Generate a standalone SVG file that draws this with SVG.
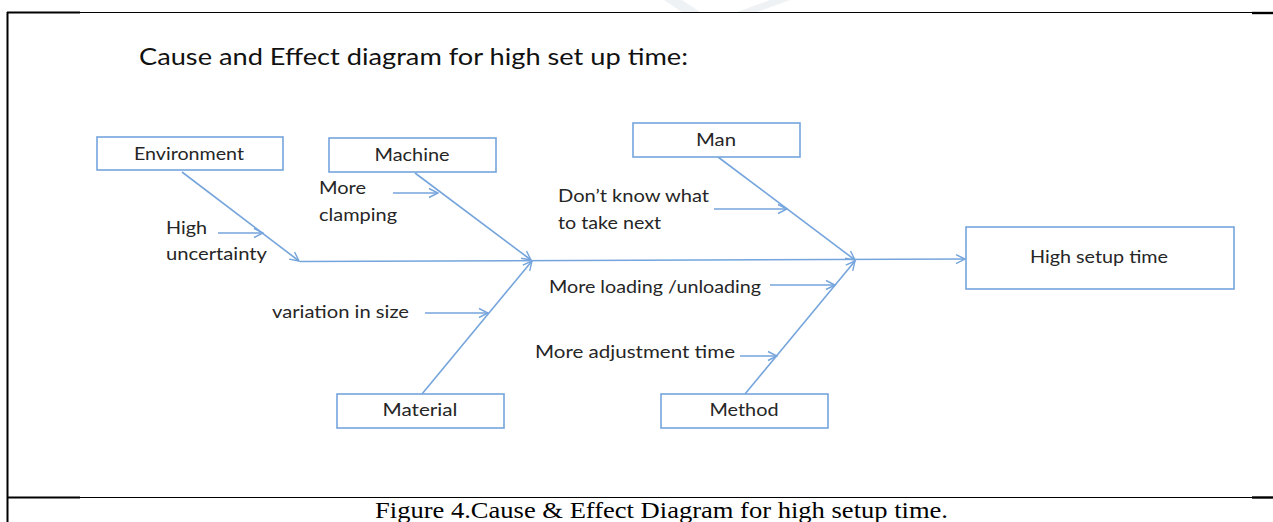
<svg xmlns="http://www.w3.org/2000/svg" width="1273" height="522" viewBox="0 0 1273 522">
<defs>
<marker id="ah" markerUnits="userSpaceOnUse" markerWidth="12" markerHeight="12" viewBox="0 0 12 12" refX="11" refY="6" orient="auto">
<path d="M2,1.5 L11,6 L2,10.5" fill="none" stroke="#75a5dc" stroke-width="1.4"/>
</marker>
<style>
.box{fill:#fff;stroke:#75a5dc;stroke-width:1.6}
.ln{fill:none;stroke:#75a5dc;stroke-width:1.6;marker-end:url(#ah)}
.t{font-family:Lato,"Open Sans","Liberation Sans",sans-serif;font-size:17px;fill:#262626}
.c{text-anchor:middle}
.frame{stroke:#000;fill:none}
</style>
</defs>
<rect width="1273" height="522" fill="#fff"/>
<g id="watermark">
<polygon points="664,0 682,0 700,12 682,12" fill="#eef2f4"/>
<polygon points="770,0 790,0 757,12 737,12" fill="#eef2f4"/>
</g>
<g id="frame">
<line class="frame" x1="80" y1="12.5" x2="1252" y2="12.5" stroke-width="1.2"/>
<line class="frame" x1="7" y1="12.5" x2="80" y2="12.5" stroke-width="2"/>
<line class="frame" x1="1252" y1="13" x2="1273" y2="13" stroke-width="2.4"/>
<line class="frame" x1="7.5" y1="12" x2="7.5" y2="522" stroke-width="2"/>
<line class="frame" x1="80" y1="497.5" x2="1252" y2="497.5" stroke-width="1.2"/>
<line class="frame" x1="7" y1="497.5" x2="80" y2="497.5" stroke-width="2"/>
<line class="frame" x1="1252" y1="497.5" x2="1273" y2="497.5" stroke-width="2.4"/>
</g>
<text id="title" x="139" y="65" font-family="Lato,'Open Sans','Liberation Sans',sans-serif" font-size="23" fill="#111" textLength="549" lengthAdjust="spacingAndGlyphs">Cause and Effect diagram for high set up time:</text>
<g id="connectors">
<line class="ln" x1="300" y1="261.5" x2="965" y2="259"/>
<line class="ln" x1="182" y1="172" x2="299" y2="261"/>
<line class="ln" x1="218" y1="233" x2="263" y2="233"/>
<line class="ln" x1="415" y1="173" x2="531" y2="260"/>
<line class="ln" x1="393" y1="193" x2="438" y2="193"/>
<line class="ln" x1="422" y1="394" x2="532" y2="261"/>
<line class="ln" x1="425" y1="313" x2="488" y2="313"/>
<line class="ln" x1="718" y1="157" x2="855" y2="260"/>
<line class="ln" x1="714" y1="209" x2="787" y2="209"/>
<line class="ln" x1="745" y1="394" x2="855" y2="261"/>
<line class="ln" x1="770" y1="285" x2="835" y2="285"/>
<line class="ln" x1="740" y1="356" x2="777" y2="356"/>
</g>
<g id="environment">
<rect class="box" x="97" y="137" width="186" height="33"/>
<text class="t c" x="189" y="160" textLength="110" lengthAdjust="spacingAndGlyphs">Environment</text>
</g>
<g id="machine">
<rect class="box" x="329" y="138" width="167" height="34"/>
<text class="t c" x="412" y="161" textLength="75" lengthAdjust="spacingAndGlyphs">Machine</text>
</g>
<g id="man">
<rect class="box" x="633" y="123" width="167" height="34"/>
<text class="t c" x="716" y="146" textLength="40" lengthAdjust="spacingAndGlyphs">Man</text>
</g>
<g id="effect">
<rect class="box" x="966" y="227" width="268" height="62"/>
<text class="t c" x="1099" y="263" textLength="138" lengthAdjust="spacingAndGlyphs">High setup time</text>
</g>
<g id="material">
<rect class="box" x="337" y="394" width="167" height="34"/>
<text class="t c" x="420" y="416" textLength="75" lengthAdjust="spacingAndGlyphs">Material</text>
</g>
<g id="method">
<rect class="box" x="661" y="394" width="167" height="34"/>
<text class="t c" x="744" y="416" textLength="69" lengthAdjust="spacingAndGlyphs">Method</text>
</g>
<g id="labels">
<text class="t" x="319" y="194" textLength="47" lengthAdjust="spacingAndGlyphs">More</text>
<text class="t" x="319" y="221" textLength="78" lengthAdjust="spacingAndGlyphs">clamping</text>
<text class="t" x="166" y="234" textLength="41" lengthAdjust="spacingAndGlyphs">High</text>
<text class="t" x="166" y="260" textLength="101" lengthAdjust="spacingAndGlyphs">uncertainty</text>
<text class="t" x="558" y="202" textLength="151" lengthAdjust="spacingAndGlyphs">Don’t know  what</text>
<text class="t" x="558" y="229" textLength="103" lengthAdjust="spacingAndGlyphs">to take next</text>
<text class="t" x="549" y="293" textLength="212" lengthAdjust="spacingAndGlyphs">More loading /unloading</text>
<text class="t" x="272" y="318" textLength="137" lengthAdjust="spacingAndGlyphs">variation in size</text>
<text class="t" x="535" y="358" textLength="200" lengthAdjust="spacingAndGlyphs">More adjustment time</text>
</g>
<text id="caption" x="375" y="518" font-family="'Liberation Serif',serif" font-size="23" fill="#000" textLength="573" lengthAdjust="spacingAndGlyphs">Figure 4.Cause &amp; Effect Diagram for high setup time.</text>
</svg>
